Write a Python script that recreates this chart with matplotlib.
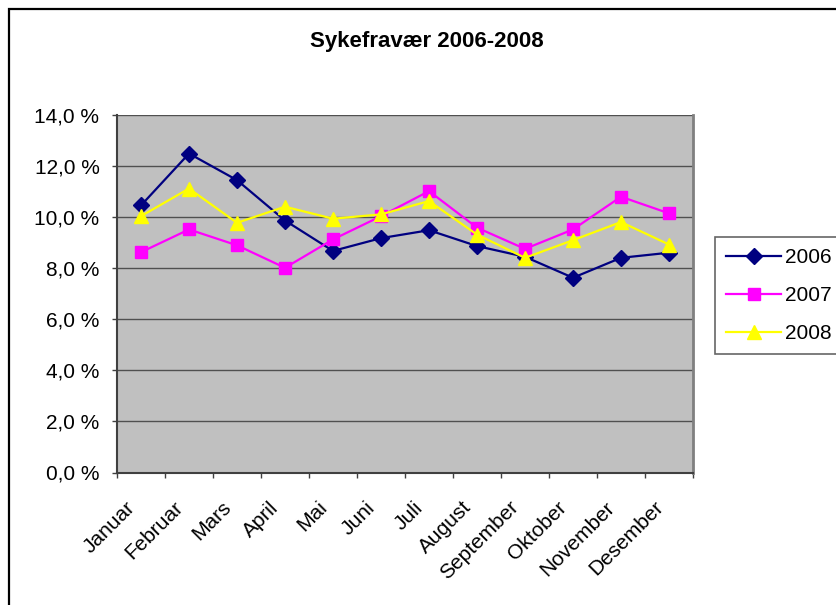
import matplotlib

matplotlib.use('Agg')
import matplotlib.pyplot as plt  # noqa: E402
from matplotlib.patches import Rectangle  # noqa: E402
from matplotlib.ticker import FuncFormatter, FixedLocator  # noqa: E402
from matplotlib.transforms import ScaledTranslation  # noqa: E402

plt.rcParams['font.family'] = ['Liberation Sans', 'DejaVu Sans']

months = ['Januar', 'Februar', 'Mars', 'April', 'Mai', 'Juni', 'Juli',
          'August', 'September', 'Oktober', 'November', 'Desember']
fravaer_2006 = [10.45, 12.48, 11.44, 9.86, 8.67, 9.17, 9.48, 8.86, 8.44, 7.62, 8.40, 8.60]
fravaer_2007 = [8.62, 9.51, 8.89, 8.01, 9.12, 10.03, 11.01, 9.58, 8.75, 9.51, 10.79, 10.14]
fravaer_2008 = [10.03, 11.11, 9.77, 10.40, 9.93, 10.10, 10.62, 9.31, 8.40, 9.09, 9.80, 8.92]

W, H = 837, 605
fig = plt.figure(figsize=(W / 100, H / 100), dpi=100)
ax = fig.add_axes([117 / W, 1 - 472.5 / H, (693 - 117) / W, (472.5 - 114.7) / H])
ax.set_facecolor('#C0C0C0')

x = list(range(len(months)))
ax.plot(x, fravaer_2006, color='#000080', marker='D', markersize=8, lw=1.6, label='2006', zorder=3)
ax.plot(x, fravaer_2007, color='#FF00FF', marker='s', markersize=9, lw=1.6, label='2007', zorder=3)
ax.plot(x, fravaer_2008, color='#FFFF00', marker='^', markersize=10, lw=1.6, label='2008', zorder=3)

ax.set_xlim(-0.5, len(months) - 0.5)
ax.set_ylim(0, 14)
ax.set_yticks([0, 2, 4, 6, 8, 10, 12, 14])
ax.yaxis.set_major_formatter(FuncFormatter(lambda v, p: f"{v:.1f}".replace('.', ',') + ' %'))
ax.yaxis.grid(True, color='#505050', lw=1)
ax.set_axisbelow(True)

ax.set_xticks(x)
ax.set_xticklabels(months, rotation=45, ha='right', va='center', rotation_mode='anchor')
ax.xaxis.set_minor_locator(FixedLocator([i - 0.5 for i in range(len(months) + 1)]))
ax.tick_params(axis='x', which='major', length=0, pad=23, labelsize=15)
ax.tick_params(axis='x', which='minor', length=3.6, color='#404040', width=1)
ax.tick_params(axis='y', length=3.6, color='#404040', width=1, labelsize=15, pad=9)
shift = ScaledTranslation(-9 / 100, 0, fig.dpi_scale_trans)
for lbl in ax.get_xticklabels():
    lbl.set_transform(lbl.get_transform() + shift)

for side in ['left', 'bottom']:
    ax.spines[side].set_color('#404040')
    ax.spines[side].set_linewidth(1.5)
ax.spines['right'].set_color('#808080')
ax.spines['right'].set_linewidth(2)
ax.spines['top'].set_visible(False)

fig.text(427 / W, 1 - 41 / H, 'Sykefravær 2006-2008', ha='center', va='center',
         fontsize=16, fontweight='bold')

leg = fig.legend(loc='upper left', bbox_to_anchor=(715 / W, 1 - 237 / H), fontsize=15,
                 frameon=True, fancybox=False, handlelength=2.6, handletextpad=0.2,
                 labelspacing=0.9, borderpad=0.55, borderaxespad=0)
leg.get_frame().set_edgecolor('#404040')
leg.get_frame().set_linewidth(1.2)

fig.patches.append(Rectangle((9 / W, -0.1), 1, 1.1 - 9.5 / H, transform=fig.transFigure,
                             fill=False, edgecolor='black', lw=1.6))

fig.savefig('out.png', dpi=100)
plt.close(fig)
